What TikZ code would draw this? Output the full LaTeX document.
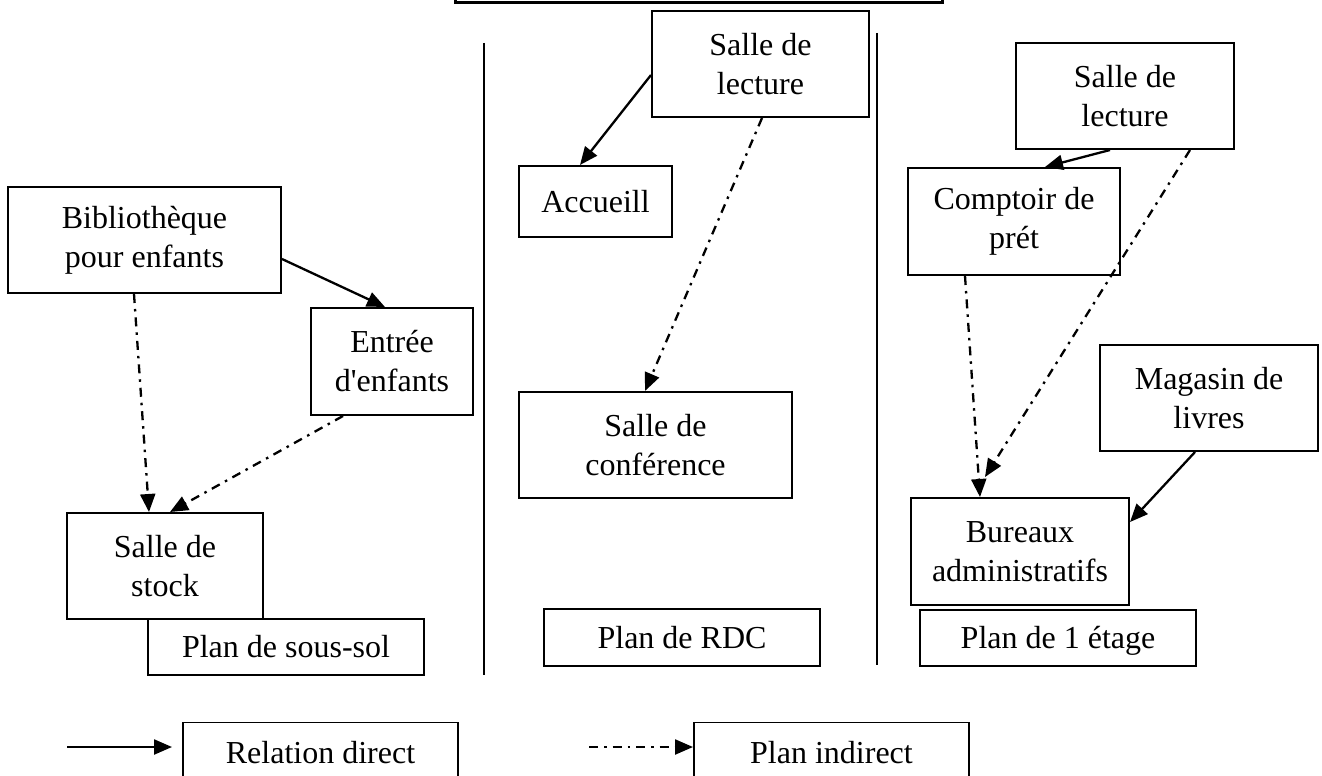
\documentclass[tikz,border=0pt]{standalone}
\usepackage{fontspec}
\setmainfont{Liberation Serif}
\usetikzlibrary{arrows.meta}
\newcommand\boxfont{\fontsize{32}{39}\selectfont}
\tikzset{
  box/.style={draw, line width=2pt, inner sep=0pt, align=center, font=\boxfont},
  onebox/.style={box, text height=24pt, text depth=3pt},
  legbox/.style={draw, line width=1.3pt, inner sep=0pt, anchor=north, font=\boxfont,
    text height=41pt, text depth=40pt, minimum width=275pt},
  sep/.style={line width=2pt},
  direct/.style={line width=2.3pt, -{Triangle[length=18pt,width=15pt]}},
  indirect/.style={line width=2.3pt, dash pattern=on 9pt off 6pt on 2.5pt off 6pt,
    -{Triangle[length=18pt,width=15pt]}},
}
\begin{document}
\begin{tikzpicture}[x=1pt,y=-1pt]
\useasboundingbox (0,0) rectangle (1322,776);
\clip (0,0) rectangle (1322,776);
\fill[white] (0,0) rectangle (1322,776);

% top box (cut off)
\node[draw, line width=3pt, minimum width=487pt, minimum height=80pt, inner sep=0pt] (topbox) at (698.5,-37) {};

% separators
\coordinate (s1a) at (484,43); \coordinate (s1b) at (484,675);
\coordinate (s2a) at (877,33); \coordinate (s2b) at (877,665);
\draw[sep] (s1a) -- (s1b);
\draw[sep] (s2a) -- (s2b);

% left column
\node[box, minimum width=273pt, minimum height=106pt] (biblio) at (144.5,240) {Bibliothèque\\pour enfants};
\node[box, minimum width=162pt, minimum height=107pt] (entree) at (392,361.5) {Entrée\\d\textquotesingle enfants};
\node[box, minimum width=196pt, minimum height=106pt] (stock) at (165,566) {Salle de\\stock};
\node[onebox, minimum width=276pt, minimum height=56pt, fill=white] (sous) at (286,647) {Plan de sous-sol};

% middle column
\node[box, minimum width=217pt, minimum height=106pt] (mlect) at (760.5,64) {Salle de\\lecture};
\node[box, minimum width=153pt, minimum height=71pt] (accueil) at (595.5,201.5) {Accueill};
\node[box, minimum width=273pt, minimum height=106pt] (conf) at (655.5,445) {Salle de\\conférence};
\node[onebox, minimum width=276pt, minimum height=57pt] (rdc) at (682,637.5) {Plan de RDC};

% right column
\node[box, minimum width=218pt, minimum height=106pt] (rlect) at (1125,96) {Salle de\\lecture};
\node[box, minimum width=212pt, minimum height=107pt] (compt) at (1014,221.5) {Comptoir de\\prét};
\node[box, minimum width=218pt, minimum height=106pt] (mag) at (1209,398) {Magasin de\\livres};
\node[box, minimum width=218pt, minimum height=107pt] (bur) at (1020,551.5) {Bureaux\\administratifs};
\node[onebox, minimum width=276pt, minimum height=56pt] (etage) at (1058,638) {Plan de 1 étage};

% connectors
\draw[direct] ([yshift=-11pt]mlect.west) -- ([xshift=-15.5pt]accueil.north);
\draw[indirect] ([xshift=1.5pt]mlect.south) -- ([xshift=-10.5pt]conf.north);
\draw[direct] ([yshift=-19pt]biblio.east) -- ([xshift=-7pt]entree.north);
\draw[indirect] ([xshift=-10.5pt]biblio.south) -- ([xshift=-16pt]stock.north);
\draw[indirect] ([xshift=-49pt]entree.south) -- ([xshift=5pt]stock.north);
\draw[direct] ([xshift=-15pt]rlect.south) -- ([xshift=31pt]compt.north);
\draw[indirect] ([xshift=65pt]rlect.south) -- ([xshift=-35pt,yshift=20pt]bur.north);
\draw[indirect] ([xshift=-49pt]compt.south) -- ([xshift=-40pt]bur.north);
\draw[direct] ([xshift=-14pt]mag.south) -- ([yshift=29.5pt]bur.east);

% legend
\node[legbox] (reld) at (320.5,722) {Relation direct};
\node[legbox] (plind) at (831.5,722) {Plan indirect};
\coordinate (l1a) at (67,747); \coordinate (l1b) at (172,747);
\coordinate (l2a) at (589,747); \coordinate (l2b) at (693,747);
\draw[direct] (l1a) -- (l1b);
\draw[indirect] (l2a) -- (l2b);
\end{tikzpicture}
\end{document}
